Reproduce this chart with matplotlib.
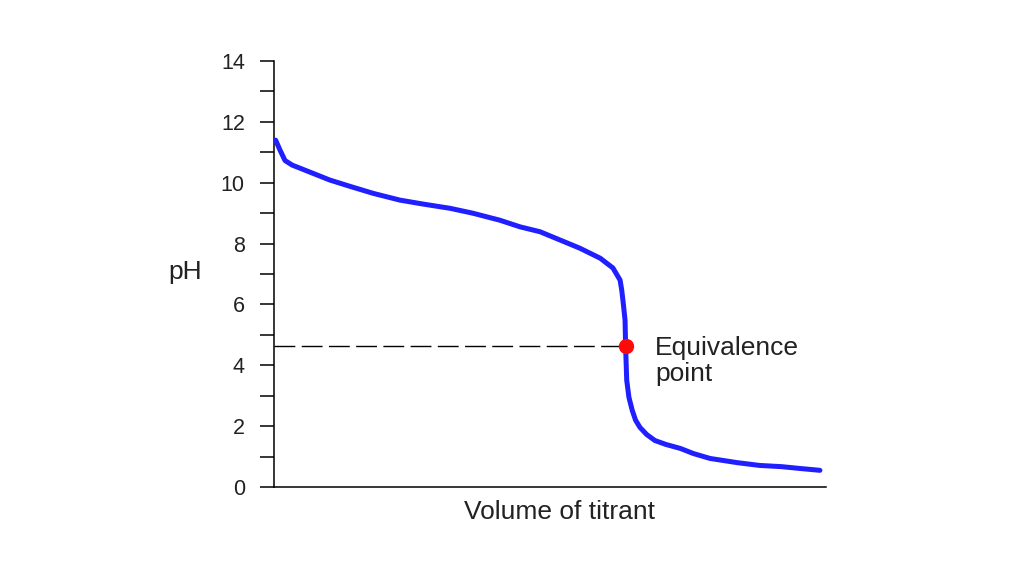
import numpy as np
import matplotlib
matplotlib.use("Agg")
from matplotlib import pyplot as plt

plt.rcParams["font.family"] = ["Liberation Sans", "DejaVu Sans"]

# titration curve, volume in arbitrary units (0-100), pH
volume = [0.3, 1.1, 2.0, 3.3, 4.7, 6.5, 10.1, 13.8, 18.0, 22.8, 27.0, 31.9, 36.0, 40.9,
          44.6, 48.2, 51.8, 55.4, 59.1, 61.4, 62.7, 63.0, 63.3, 63.6, 63.7, 63.9,
          64.3, 64.9, 65.5, 66.3, 67.5, 69.0, 71.0, 73.6, 76.0, 79.0, 84.0, 88.0, 92.0,
          95.3, 98.9]
ph = [11.40, 11.07, 10.73, 10.58, 10.48, 10.35, 10.09, 9.88, 9.65, 9.43, 9.30, 9.16,
      9.00, 8.77, 8.55, 8.39, 8.12, 7.85, 7.52, 7.20, 6.80, 6.47, 6.00, 5.48, 4.62,
      3.51, 2.95, 2.52, 2.20, 1.96, 1.73, 1.53, 1.40, 1.27, 1.10, 0.94, 0.80, 0.71, 0.67,
      0.61, 0.55]

equiv_volume = 63.7
equiv_ph = 4.62

fig = plt.figure(figsize=(10.11, 5.84), dpi=100)
ax = fig.add_axes([0.271, 0.166, 0.546, 0.7295])

ax.plot(volume, ph, color="#1f1fff", linewidth=3.6, solid_capstyle="round",
        solid_joinstyle="round", zorder=3)
ax.plot([0, equiv_volume], [equiv_ph, equiv_ph], color="black", linewidth=1.0,
        dashes=(15, 4.6), zorder=2)
ax.plot([equiv_volume], [equiv_ph], "o", color="#ff0a0a", markersize=10, zorder=4)
ax.text(69.0, 4.15, "Equivalence\npoint", fontsize=19, va="center", ha="left",
        linespacing=1.1, color="#222222")

ax.set_xlim(0, 100)
ax.set_ylim(0, 14)
ax.set_xticks([])
ax.set_yticks(range(0, 15))
ax.set_yticklabels([str(v) if v % 2 == 0 else "" for v in range(0, 15)])
ax.tick_params(axis="y", length=10, width=1.1, pad=11, labelsize=15.5, labelcolor="#222222")

for side in ("top", "right"):
    ax.spines[side].set_visible(False)
for side in ("left", "bottom"):
    ax.spines[side].set_linewidth(1.1)

ax.set_ylabel("pH", rotation=0, fontsize=19, color="#222222", va="center", ha="center")
ax.yaxis.set_label_coords(-0.161, 0.505)
ax.set_xlabel("Volume of titrant", fontsize=19, color="#222222", va="center")
ax.xaxis.set_label_coords(0.518, -0.059)

fig.savefig("out.png", dpi=100)
